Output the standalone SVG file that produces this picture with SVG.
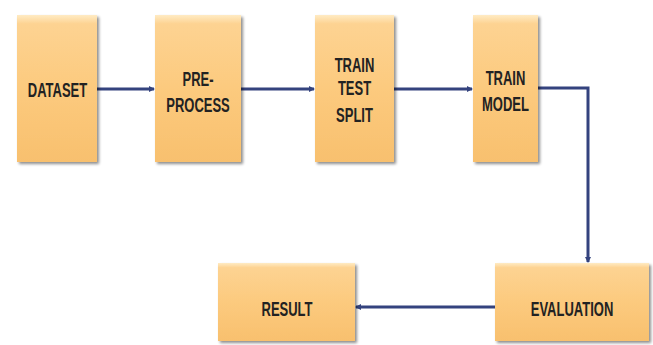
<svg xmlns="http://www.w3.org/2000/svg" width="653" height="345" viewBox="0 0 653 345">
  <defs>
    <linearGradient id="boxFill" x1="0" y1="0" x2="0" y2="1">
      <stop offset="0" stop-color="#FFEBC4"/>
      <stop offset="0.06" stop-color="#FDD392"/>
      <stop offset="0.5" stop-color="#FCCA7E"/>
      <stop offset="1" stop-color="#F8C06E"/>
    </linearGradient>
    <filter id="shadow" x="-10%" y="-10%" width="125%" height="125%">
      <feGaussianBlur in="SourceAlpha" stdDeviation="1.5"/>
      <feOffset dx="2" dy="2" result="b"/>
      <feComponentTransfer><feFuncA type="linear" slope="0.45"/></feComponentTransfer>
      <feMerge><feMergeNode/><feMergeNode in="SourceGraphic"/></feMerge>
    </filter>
    <marker id="arrow" markerWidth="6" markerHeight="6" refX="5" refY="3" orient="auto" markerUnits="userSpaceOnUse">
      <path d="M0,0 L6,3 L0,6 Z" fill="#34437E"/>
    </marker>
  </defs>
  <style>
    .box { fill: url(#boxFill); filter: url(#shadow); }
    .lbl { font-family: "Liberation Sans", Arial, sans-serif; font-weight: bold; font-size: 20px; fill: #222222; text-anchor: middle; }
    .edge { fill: none; stroke: #34437E; stroke-width: 3; marker-end: url(#arrow); }
  </style>
  <rect width="653" height="345" fill="#FFFFFF"/>

  <g id="connectors">
    <line class="edge" x1="97" y1="89" x2="154" y2="89"/>
    <line class="edge" x1="241" y1="89" x2="314" y2="89"/>
    <line class="edge" x1="394" y1="89" x2="472" y2="89"/>
    <polyline class="edge" points="538,88 588,88 588,262"/>
    <line class="edge" x1="495" y1="307" x2="356" y2="307"/>
  </g>

  <!-- labels use a horizontally condensed bold face: scale(0.65,1) about each box centre -->
  <g id="dataset">
    <rect class="box" x="17" y="15" width="80" height="147"/>
    <text class="lbl" transform="translate(57.5,97) scale(0.65,1)">DATASET</text>
  </g>

  <g id="preprocess">
    <rect class="box" x="155" y="15" width="86" height="147"/>
    <g transform="translate(198,0) scale(0.65,1)">
      <text class="lbl" x="0" y="86">PRE-</text>
      <text class="lbl" x="0" y="112">PROCESS</text>
    </g>
  </g>

  <g id="train-test-split">
    <rect class="box" x="315" y="15" width="79" height="147"/>
    <g transform="translate(354.5,0) scale(0.65,1)">
      <text class="lbl" x="0" y="72">TRAIN</text>
      <text class="lbl" x="0" y="95">TEST</text>
      <text class="lbl" x="0" y="122">SPLIT</text>
    </g>
  </g>

  <g id="train-model">
    <rect class="box" x="473" y="15" width="65" height="147"/>
    <g transform="translate(505.5,0) scale(0.65,1)">
      <text class="lbl" x="0" y="85">TRAIN</text>
      <text class="lbl" x="0" y="111">MODEL</text>
    </g>
  </g>

  <g id="evaluation">
    <rect class="box" x="495" y="263" width="154" height="78"/>
    <text class="lbl" transform="translate(572,316) scale(0.65,1)">EVALUATION</text>
  </g>

  <g id="result">
    <rect class="box" x="218" y="263" width="137" height="78"/>
    <text class="lbl" transform="translate(287,316) scale(0.65,1)">RESULT</text>
  </g>
</svg>
